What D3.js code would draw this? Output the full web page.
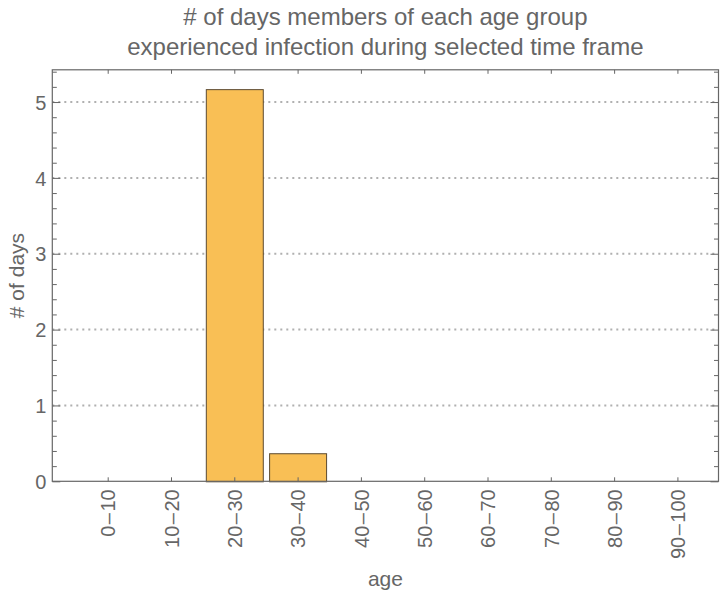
<!DOCTYPE html>
<html>
<head>
<meta charset="utf-8">
<script src="https://cdn.jsdelivr.net/npm/d3@7"></script>
<style>
  html, body { margin: 0; padding: 0; background: #fff; }
  svg { display: block; font-family: "Liberation Sans", Arial, sans-serif; }
</style>
</head>
<body>
<svg id="chart" width="720" height="593"></svg>
<script>
const categories = ["0\u201310", "10\u201320", "20\u201330", "30\u201340", "40\u201350", "50\u201360", "60\u201370", "70\u201380", "80\u201390", "90\u2013100"];
const values = [0, 0, 5.17, 0.37, 0, 0, 0, 0, 0, 0];
const yTicks = [0, 1, 2, 3, 4, 5];
const titleLines = ["# of days members of each age group", "experienced infection during selected time frame"];
const yLabel = "# of days";
const xLabel = "age";

const svg = d3.select("#chart");
const L = 52.3, R = 718.5, T = 69.8, B = 481.3;
const textColor = "#666";
const frameColor = "#666";

const x = d3.scaleLinear().domain([-0.875, 9.649]).range([L, R]);
const y = d3.scaleLinear().domain([0, 5.425]).range([B, T]);
const half = 0.45;

// gridlines
svg.append("g").selectAll("line").data(yTicks.filter(d => d > 0)).join("line")
  .attr("x1", L).attr("x2", R)
  .attr("y1", d => y(d)).attr("y2", d => y(d))
  .attr("stroke", "#b0b0b0").attr("stroke-width", 2)
  .attr("stroke-dasharray", "2,4");

// bars
const data = categories.map((c, i) => ({ c, i, v: values[i] })).filter(d => d.v > 0);
svg.append("g").selectAll("rect").data(data).join("rect")
  .attr("x", d => x(d.i - half) + 0.5)
  .attr("width", d => x(d.i + half) - x(d.i - half))
  .attr("y", d => y(d.v) + 0.5)
  .attr("height", d => y(0) - y(d.v))
  .attr("fill", "#f9bf55")
  .attr("stroke", "#5c4a30")
  .attr("stroke-width", 1);

const yMinor = d3.range(0, 5.45, 0.2).map(v => +v.toFixed(2)).filter(v => !yTicks.includes(v));

function styleAxis(g) {
  g.select(".domain").remove();
  g.selectAll("line").attr("stroke", frameColor);
  g.selectAll("text").attr("fill", textColor);
}

// left axis
svg.append("g").attr("transform", `translate(${L},0)`)
  .call(d3.axisLeft(y).tickValues(yTicks).tickSize(-8).tickFormat(d3.format("d")))
  .call(styleAxis)
  .call(g => g.selectAll("text").attr("font-size", 20).attr("x", -6).attr("dy", "0.36em"));
svg.append("g").attr("transform", `translate(${L},0)`)
  .call(d3.axisLeft(y).tickValues(yMinor).tickSize(-4.5).tickFormat(""))
  .call(styleAxis);
// right axis
svg.append("g").attr("transform", `translate(${R},0)`)
  .call(d3.axisRight(y).tickValues(yTicks).tickSize(-8).tickFormat(""))
  .call(styleAxis);
svg.append("g").attr("transform", `translate(${R},0)`)
  .call(d3.axisRight(y).tickValues(yMinor).tickSize(-4.5).tickFormat(""))
  .call(styleAxis);
// bottom axis
svg.append("g").attr("transform", `translate(0,${B})`)
  .call(d3.axisBottom(x).tickValues(d3.range(categories.length)).tickSize(-4).tickFormat(i => categories[i]))
  .call(styleAxis)
  .call(g => g.selectAll("text")
    .attr("font-size", 20)
    .attr("transform", "rotate(-90)")
    .attr("text-anchor", "end")
    .attr("x", -8).attr("y", 0).attr("dy", "0.36em")
    .each(function (i) {
      const parts = categories[i].split("\u2013");
      const t = d3.select(this).text("");
      t.append("tspan").text(parts[0]);
      t.append("tspan").attr("dx", 1.5).text("\u2013");
      t.append("tspan").attr("dx", 1.5).text(parts[1]);
    }));
// top axis
svg.append("g").attr("transform", `translate(0,${T})`)
  .call(d3.axisTop(x).tickValues(d3.range(categories.length)).tickSize(-4).tickFormat(""))
  .call(styleAxis);

// frame
svg.append("rect").attr("x", L).attr("y", T).attr("width", R - L).attr("height", B - T)
  .attr("fill", "none").attr("stroke", frameColor).attr("stroke-width", 1.2);

// titles
const cx = (L + R) / 2;
svg.append("g").selectAll("text").data(titleLines).join("text")
  .attr("x", cx).attr("y", (d, i) => 25 + i * 30)
  .attr("text-anchor", "middle").attr("font-size", 24).attr("fill", textColor)
  .text(d => d);

svg.append("text")
  .attr("transform", `translate(24,${(T + B) / 2}) rotate(-90)`)
  .attr("text-anchor", "middle").attr("font-size", 21).attr("fill", textColor)
  .text(yLabel);

svg.append("text")
  .attr("x", cx).attr("y", 586)
  .attr("text-anchor", "middle").attr("font-size", 21).attr("fill", textColor)
  .text(xLabel);
</script>
</body>
</html>
